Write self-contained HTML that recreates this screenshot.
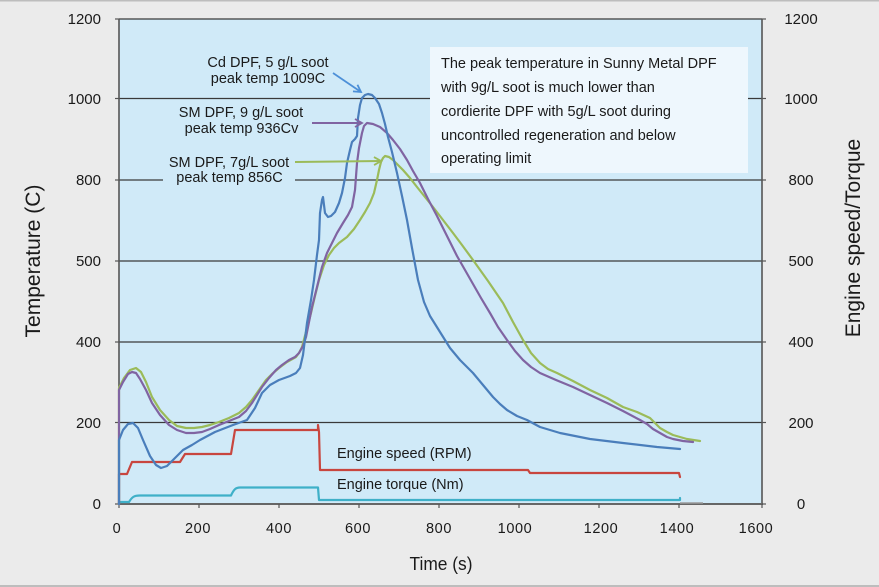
<!DOCTYPE html>
<html>
<head>
<meta charset="utf-8">
<style>
html,body{margin:0;padding:0;background:#ebebeb;}
svg{display:block;}
text{font-family:"Liberation Sans",Arial,sans-serif;fill:#1a1a1a;}
</style>
</head>
<body>
<svg width="879" height="587" viewBox="0 0 879 587" xmlns="http://www.w3.org/2000/svg">
<defs>
<marker id="ab" markerWidth="10" markerHeight="10" refX="8" refY="5" orient="auto" markerUnits="userSpaceOnUse">
<polyline points="1,1 8,5 1,9" fill="none" stroke="#4d90d8" stroke-width="1.8"/>
</marker>
<marker id="ap" markerWidth="10" markerHeight="10" refX="8" refY="5" orient="auto" markerUnits="userSpaceOnUse">
<polyline points="1,1 8,5 1,9" fill="none" stroke="#8064a2" stroke-width="1.8"/>
</marker>
<marker id="ag" markerWidth="10" markerHeight="10" refX="8" refY="5" orient="auto" markerUnits="userSpaceOnUse">
<polyline points="1,1 8,5 1,9" fill="none" stroke="#9bbb59" stroke-width="1.8"/>
</marker>
</defs>
<rect x="0" y="0" width="879" height="587" fill="#ebebeb"/>
<rect x="0" y="0" width="879" height="1.5" fill="#bdbdbd"/>
<rect x="0" y="585" width="879" height="2" fill="#bdbdbd"/>

<!-- plot area -->
<rect x="119" y="19" width="643" height="485" fill="#d0eaf8"/>

<!-- gridlines -->
<g stroke="#3a3a3a" stroke-width="1.3">
<line x1="119" y1="19" x2="762" y2="19"/>
<line x1="119" y1="98.5" x2="762" y2="98.5"/>
<line x1="119" y1="180" x2="163" y2="180"/>
<line x1="295" y1="180" x2="762" y2="180"/>
<line x1="119" y1="261" x2="762" y2="261"/>
<line x1="119" y1="342" x2="762" y2="342"/>
<line x1="119" y1="422.5" x2="762" y2="422.5"/>
</g>

<!-- annotation box -->
<rect x="430" y="47" width="318" height="126" fill="#eef7fd"/>
<g font-size="14.5">
<text x="441" y="68">The peak temperature in Sunny Metal DPF</text>
<text x="441" y="92">with 9g/L soot is much lower than</text>
<text x="441" y="116">cordierite DPF with 5g/L soot during</text>
<text x="441" y="140">uncontrolled regeneration and below</text>
<text x="441" y="163">operating limit</text>
</g>

<!-- axes -->
<g stroke="#555" stroke-width="1.6">
<line x1="119" y1="19" x2="119" y2="504"/>
<line x1="762" y1="19" x2="762" y2="504"/>
</g>
<line x1="118" y1="504" x2="763" y2="504" stroke="#666" stroke-width="2"/>
<line x1="680" y1="503" x2="703" y2="503" stroke="#9a9a9a" stroke-width="1.5"/>
<g stroke="#555" stroke-width="1.2">
<line x1="115" y1="19" x2="119" y2="19"/>
<line x1="115" y1="98.5" x2="119" y2="98.5"/>
<line x1="115" y1="180" x2="119" y2="180"/>
<line x1="115" y1="261" x2="119" y2="261"/>
<line x1="115" y1="342" x2="119" y2="342"/>
<line x1="115" y1="422.5" x2="119" y2="422.5"/>
<line x1="115" y1="504" x2="119" y2="504"/>
<line x1="762" y1="19" x2="766" y2="19"/>
<line x1="762" y1="98.5" x2="766" y2="98.5"/>
<line x1="762" y1="180" x2="766" y2="180"/>
<line x1="762" y1="261" x2="766" y2="261"/>
<line x1="762" y1="342" x2="766" y2="342"/>
<line x1="762" y1="422.5" x2="766" y2="422.5"/>
<line x1="762" y1="504" x2="766" y2="504"/>
<line x1="119" y1="504" x2="119" y2="508"/>
<line x1="199" y1="504" x2="199" y2="508"/>
<line x1="279" y1="504" x2="279" y2="508"/>
<line x1="359" y1="504" x2="359" y2="508"/>
<line x1="439" y1="504" x2="439" y2="508"/>
<line x1="519" y1="504" x2="519" y2="508"/>
<line x1="599" y1="504" x2="599" y2="508"/>
<line x1="679" y1="504" x2="679" y2="508"/>
<line x1="762" y1="504" x2="762" y2="508"/>
</g>

<!-- series -->
<g fill="none" stroke-width="2.2" stroke-linejoin="round" stroke-linecap="round">
<!-- cyan torque -->
<path stroke="#3fb0c8" d="M119,504 L119,502 L129,502 C132,497 134,495.5 140,495.5 L231,495.5 C234,489 236,487.5 240,487.5 L318,487.5 L319,500 L680,500 L680,498"/>
<!-- red speed -->
<path stroke="#c8463f" d="M119,504 L119,474 L127,474 L132,462 L180,462 L185,454 L231,454 L235,430 L318,430 L318,425 L319,432 L320,470 L528,470 L530,473 L679,473 L680,477"/>
<!-- green -->
<polyline stroke="#9bbb59" points="119,504 119,388 124,378 130,370 136,368 141,372 146,382 152,397 160,410 169,420 177,426 186,428 194,428 202,427 210,425 219,422 229,418 239,413 246,407 252,400 259,390 266,380 272,374 279,368 287,362 296,357 299,353 302,347 306,332 311,313 315,296 319,280 324,265 329,255 334,248 339,243 347,237 354,229 360,220 365,212 370,203 374,193 377,180 379,170 381,162 383,158 385,156 389,157 393,160 398,165 403,170 410,178 417,187 425,197 433,207 443,220 453,233 462,245 473,260 488,281 503,303 513,322 523,340 531,353 540,363 548,369 557,373 573,381 590,390 607,398 623,407 637,412 650,418 655,423 660,428 667,432 673,435 687,439 700,441"/>
<!-- purple -->
<polyline stroke="#8064a2" points="119,504 119,390 123,382 128,374 132,372 136,373 140,379 146,390 152,403 160,415 169,425 177,430 186,433 194,433 202,432 210,429 219,425 229,421 239,417 246,411 252,403 257,395 262,387 269,378 276,370 282,365 289,360 295,357 299,353 303,346 306,337 309,322 312,307 317,287 322,267 327,253 332,243 337,233 343,223 348,215 352,207 355,190 357,163 359,148 362,133 364,126 367,123 373,124 380,127 387,133 393,140 400,149 407,160 413,171 420,183 428,199 437,216 442,226 450,242 457,256 465,270 473,284 481,298 490,313 498,327 507,340 515,351 523,360 531,367 540,373 556,380 573,387 590,395 607,403 623,411 640,420 647,424 653,429 660,433 667,437 673,439 683,441 693,442"/>
<!-- blue -->
<polyline stroke="#4a7ebb" points="119,504 119,440 123,430 128,424 133,423 138,428 143,440 150,456 156,465 161,468 167,466 175,458 183,450 192,445 200,440 215,432 233,425 247,420 255,408 262,393 270,385 279,380 290,376 296,373 300,368 303,355 307,323 311,300 314,280 317,255 319,240 320,213 322,200 323,197 324,205 325,213 328,217 331,216 335,212 339,203 342,193 345,178 347,163 350,150 352,142 355,139 357,136 358,118 360,105 362,98 365,95 368,94 372,95 375,98 379,104 382,113 385,124 388,137 392,152 397,173 402,196 407,220 412,248 418,280 424,302 430,316 440,332 450,348 460,360 473,373 483,385 493,397 500,404 507,410 517,416 527,420 540,427 560,433 590,439 623,443 657,447 680,449"/>
</g>

<!-- arrows -->
<line x1="333" y1="73" x2="361" y2="92" stroke="#4d90d8" stroke-width="1.8" marker-end="url(#ab)"/>
<line x1="312" y1="123" x2="362" y2="123" stroke="#8064a2" stroke-width="2" marker-end="url(#ap)"/>
<line x1="295" y1="162" x2="381" y2="161" stroke="#9bbb59" stroke-width="2" marker-end="url(#ag)"/>

<!-- curve labels -->
<g font-size="14.5" text-anchor="middle">
<text x="268" y="67">Cd DPF, 5 g/L soot</text>
<text x="268" y="83">peak temp 1009C</text>
<text x="241" y="117">SM DPF, 9 g/L soot</text>
<text x="241.5" y="133">peak temp 936Cv</text>
<text x="229" y="167">SM DPF, 7g/L soot</text>
<text x="229.5" y="182">peak temp 856C</text>
</g>
<g font-size="14.5">
<text x="337" y="458">Engine speed (RPM)</text>
<text x="337" y="489">Engine torque (Nm)</text>
</g>

<!-- left tick labels -->
<g font-size="15" text-anchor="end">
<text x="101" y="24">1200</text>
<text x="101" y="104">1000</text>
<text x="101" y="185">800</text>
<text x="101" y="266">500</text>
<text x="101" y="347">400</text>
<text x="101" y="428">200</text>
<text x="101" y="509">0</text>
</g>
<!-- right tick labels -->
<g font-size="15" text-anchor="middle">
<text x="801" y="24">1200</text>
<text x="801" y="104">1000</text>
<text x="801" y="185">800</text>
<text x="801" y="266">500</text>
<text x="801" y="347">400</text>
<text x="801" y="428">200</text>
<text x="801" y="509">0</text>
</g>
<!-- x tick labels -->
<g font-size="14.5" text-anchor="middle" letter-spacing="0.6">
<text x="117" y="533">0</text>
<text x="198" y="533">200</text>
<text x="279" y="533">400</text>
<text x="358" y="533">600</text>
<text x="439" y="533">800</text>
<text x="515" y="533">1000</text>
<text x="601" y="533">1200</text>
<text x="677" y="533">1400</text>
<text x="756" y="533">1600</text>
</g>

<!-- axis titles -->
<text x="441" y="570" font-size="18" text-anchor="middle" textLength="63" lengthAdjust="spacingAndGlyphs">Time (s)</text>
<text x="40" y="261" font-size="21" text-anchor="middle" transform="rotate(-90 40 261)">Temperature (C)</text>
<text x="860" y="238" font-size="21" text-anchor="middle" transform="rotate(-90 860 238)">Engine speed/Torque</text>
</svg>
</body>
</html>
